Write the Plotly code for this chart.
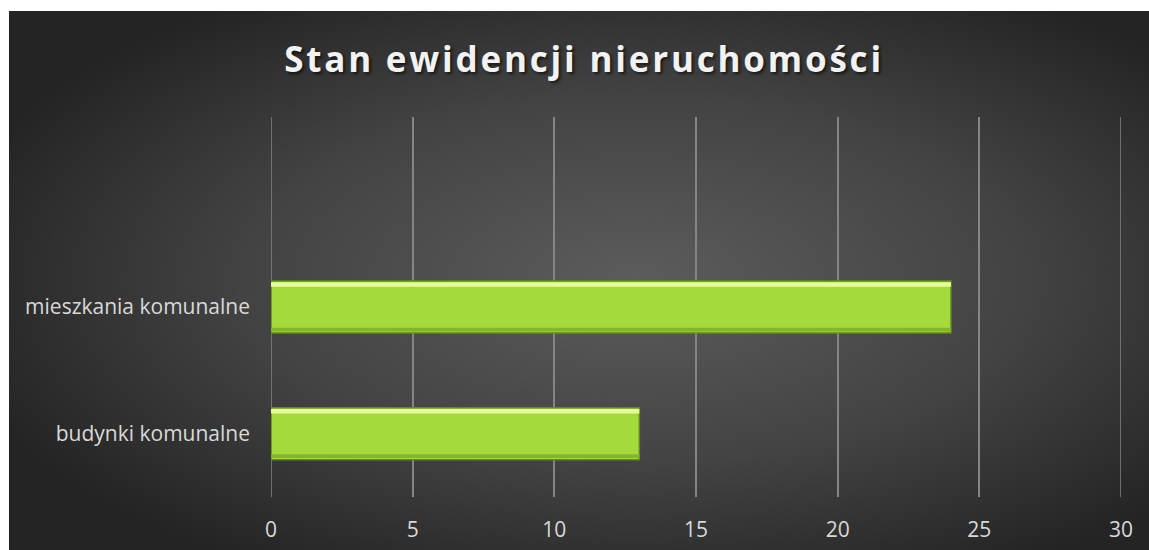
import base64
import plotly.graph_objects as go

# Data
categories = ["budynki komunalne", "mieszkania komunalne", " "]
values = [13, 24, None]
x_ticks = [0, 5, 10, 15, 20, 25, 30]
title_text = "Stan ewidencji nieruchomości"

W, H = 1149, 550
L, R, T, B = 271, 28, 117, 53
pw, ph = W - L - R, H - T - B

# radial dark-grey background for the chart area (Excel style)
bg_svg = (
    '<svg xmlns="http://www.w3.org/2000/svg" width="1140" height="539" '
    'viewBox="0 0 1140 539" preserveAspectRatio="none">'
    '<defs><radialGradient id="g" cx="55%" cy="50%" r="62%">'
    '<stop offset="0" stop-color="#5c5c5c"/>'
    '<stop offset="0.55" stop-color="#434343"/>'
    '<stop offset="1" stop-color="#242424"/>'
    '</radialGradient></defs>'
    '<rect width="1140" height="539" fill="url(#g)"/></svg>'
)
bg_uri = "data:image/svg+xml;base64," + base64.b64encode(bg_svg.encode()).decode()

bar_w = 0.41
fig = go.Figure()

# main bar with dark outline
fig.add_trace(go.Bar(
    y=categories, x=values, orientation="h",
    width=bar_w, offset=-bar_w / 2,
    marker=dict(color="#a4da3c", line=dict(color="#5f8a1c", width=1.5)),
    hoverinfo="x+y",
))
# bevel: light strip at top, darker strip at bottom
fig.add_trace(go.Bar(
    y=categories, x=values, orientation="h",
    width=0.035, offset=bar_w / 2 - 0.045,
    marker=dict(color="#e8fb9c", line=dict(width=0)),
    hoverinfo="skip",
))
fig.add_trace(go.Bar(
    y=categories, x=values, orientation="h",
    width=0.03, offset=-bar_w / 2 + 0.012,
    marker=dict(color="#86b52c", line=dict(width=0)),
    hoverinfo="skip",
))

fig.update_layout(
    width=W, height=H,
    margin=dict(l=L, r=R, t=T, b=B, autoexpand=False),
    paper_bgcolor="#252525",
    plot_bgcolor="rgba(0,0,0,0)",
    barmode="overlay",
    showlegend=False,
    title=dict(
        text=title_text,
        x=584 / W, xanchor="center", xref="container",
        y=1 - 60 / H, yanchor="middle", yref="container",
        font=dict(family="Open Sans", size=35, color="#f2f2f2", weight="bold",
                  shadow="2px 2px 3px rgba(0,0,0,0.6)"),
    ),
    images=[dict(
        source=bg_uri, xref="paper", yref="paper",
        x=(9 - L) / pw, y=(H - B - 11) / ph,
        sizex=(W - 9) / pw, sizey=(H - 11) / ph,
        xanchor="left", yanchor="top", sizing="stretch", layer="below",
    )],
)

# white page margin above and left of the chart box
fig.add_shape(type="rect", xref="paper", yref="paper",
              x0=-L / pw - 0.05, x1=(9 - L) / pw, y0=-B / ph - 0.1, y1=(H - B) / ph + 0.1,
              fillcolor="white", line=dict(width=0), layer="above")
fig.add_shape(type="rect", xref="paper", yref="paper",
              x0=-L / pw - 0.05, x1=1 + R / pw + 0.05, y0=(H - B - 11) / ph, y1=(H - B) / ph + 0.1,
              fillcolor="white", line=dict(width=0), layer="above")

fig.update_xaxes(
    range=[0, 30], tickvals=x_ticks,
    showgrid=True, gridcolor="#858585", gridwidth=1.5,
    zeroline=False, showline=False, automargin=False,
    tickfont=dict(family="Open Sans", size=21, color="#d9d9d9"),
    ticklabelstandoff=18,
    fixedrange=True,
)
fig.update_yaxes(
    type="category", categoryorder="array", categoryarray=categories,
    range=[-0.5, 2.5],
    showgrid=False, zeroline=False, showline=False, automargin=False,
    tickfont=dict(family="Open Sans", size=21, color="#d9d9d9"),
    ticklabelstandoff=20,
    fixedrange=True,
)

# gridlines at the two ends of the range are not drawn by plotly
for xv in (x_ticks[0], x_ticks[-1]):
    fig.add_shape(type="line", xref="x", yref="paper", x0=xv, x1=xv, y0=0, y1=1,
                  line=dict(color="#858585", width=1.5), layer="below")

fig.write_html(
    "out.html",
    config={"displayModeBar": False},
    post_script=(
        "var s=document.documentElement.style; s.overflow='hidden'; s.margin='0';"
        "var b=document.body.style; b.margin='0'; b.overflow='hidden'; b.background='#252525';"
        "document.querySelectorAll('.gtitle').forEach(function(t){t.style.letterSpacing='2.8px';});"
    ),
)
